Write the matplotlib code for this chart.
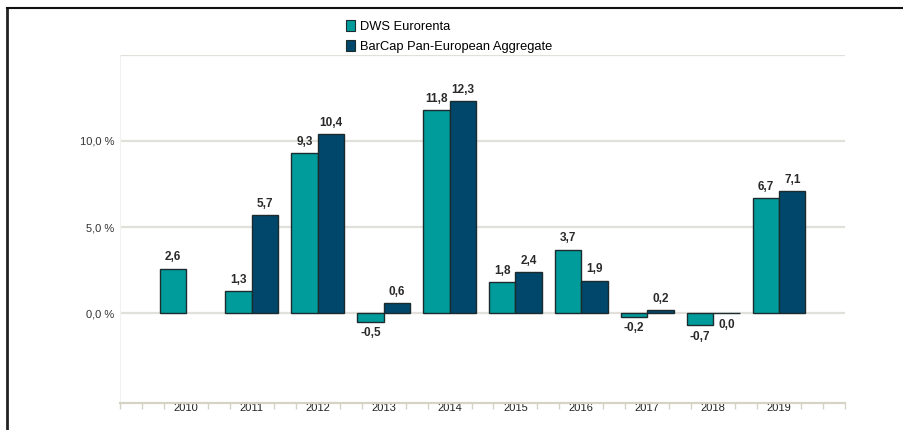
import numpy as np
import matplotlib.pyplot as plt
from matplotlib.lines import Line2D
from matplotlib.patches import Patch

plt.rcParams['font.family'] = ['Liberation Sans', 'DejaVu Sans']

# Data
years = ["2010", "2011", "2012", "2013", "2014", "2015", "2016", "2017", "2018", "2019"]
dws = [2.6, 1.3, 9.3, -0.5, 11.8, 1.8, 3.7, -0.2, -0.7, 6.7]
barcap = [np.nan, 5.7, 10.4, 0.6, 12.3, 2.4, 1.9, 0.2, 0.0, 7.1]
series_names = ["DWS Eurorenta", "BarCap Pan-European Aggregate"]
colors = ["#009c9c", "#00476b"]

fig = plt.figure(figsize=(9.04, 4.30), dpi=100)
ax = fig.add_axes([120 / 904, 1 - 403 / 430, 725 / 904, (403 - 54.8) / 430])

x = np.arange(len(years))
w = 0.4
grid_c = "#e2e0da"

for yv in [0, 5, 10, 15]:
    ax.axhline(yv, color=grid_c, lw=1.6, zorder=0)

for vals, off, c in [(dws, -w / 2, colors[0]), (barcap, w / 2, colors[1])]:
    for xi, v in zip(x, vals):
        if np.isnan(v):
            continue
        ax.bar(xi + off, v, width=w, color=c, edgecolor="#1c2b2e", lw=1.0, zorder=2)
        label = f"{v:.1f}".replace(".", ",")
        if v > 0:
            ax.text(xi + off, v + 0.3, label, ha="center", va="bottom",
                    fontsize=8.5, fontweight="bold", color="#2a2a2a")
        else:
            ax.text(xi + off, v - 0.3, label, ha="center", va="top",
                    fontsize=8.5, fontweight="bold", color="#2a2a2a")

ax.set_xlim(-1, 10)
ax.set_ylim(-5.2, 15)

ax.set_yticks([0, 5, 10])
ax.set_yticklabels(["0,0 %", "5,0 %", "10,0 %"], fontsize=8, color="#333333")
ax.tick_params(axis="y", length=0, pad=4)

ax.set_xticks(x)
ax.set_xticklabels(years, fontsize=8, color="#222222")
ax.tick_params(axis="x", length=0, pad=0)
minor = [t / 3 for t in range(-3, 31) if t % 3 != 0 or t in (-3, 30)]
ax.set_xticks(minor, minor=True)
ax.tick_params(axis="x", which="minor", length=4, color="#d6d2c6", width=1)

for s in ["top", "right"]:
    ax.spines[s].set_visible(False)
ax.spines["left"].set_color("#f2f1ee")
ax.spines["bottom"].set_color("#d6d2c6")
ax.spines["bottom"].set_linewidth(1.6)

# Legend
handles = [Patch(facecolor=c, edgecolor="#1c2b2e", lw=0.8) for c in colors]
fig.legend(handles, series_names, loc="upper left", bbox_to_anchor=(334 / 904, 1 - 8 / 430),
           ncol=1, frameon=False, fontsize=9.3, handlelength=0.7, handleheight=1.0,
           handletextpad=0.4, labelspacing=0.55)

# Outer frame
fig.add_artist(Line2D([7 / 904, 7 / 904], [0, 1 - 8 / 430], color="#222222", lw=2))
fig.add_artist(Line2D([7 / 904, 1], [1 - 8 / 430, 1 - 8 / 430], color="#111111", lw=1.5))

fig.savefig("out.png", dpi=100)
